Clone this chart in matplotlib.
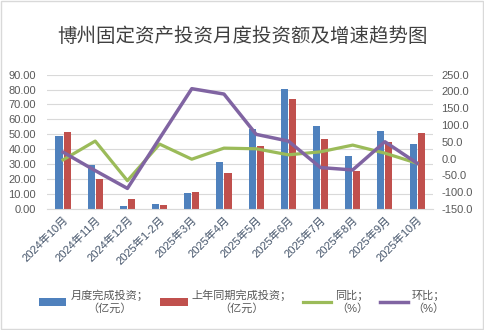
import numpy as np
import matplotlib.pyplot as plt
from matplotlib.patches import Rectangle

months = ['2024年10月', '2024年11月', '2024年12月', '2025年1-2月', '2025年3月', '2025年4月',
          '2025年5月', '2025年6月', '2025年7月', '2025年8月', '2025年9月', '2025年10月']
invest = [48.9, 29.5, 2.2, 3.4, 10.9, 31.7, 53.6, 80.4, 55.6, 35.5, 52.3, 43.6]
invest_last = [51.8, 19.9, 6.7, 2.9, 11.6, 24.3, 42.2, 73.7, 46.9, 25.5, 44.9, 51.1]
yoy = [-4, 52, -66, 43, -2, 31, 29, 11, 20, 40, 16, -14]
mom = [19, -36, -89, 60, 208, 192, 72, 52, -27, -34, 50, -14]

plt.rcParams['font.family'] = ['Liberation Sans', 'Noto Sans CJK SC']
plt.rcParams['font.size'] = 8

fig = plt.figure(figsize=(4.84, 3.30), dpi=100)
ax = fig.add_axes([0.097, 0.367, 0.798, 0.407])
ax2 = ax.twinx()

x = np.arange(len(months))
w = 0.22
b1 = ax.bar(x - 0.125, invest, w, color='#4F81BD', label='月度完成投资；\n（亿元）')
b2 = ax.bar(x + 0.125, invest_last, w, color='#C0504D', label='上年同期完成投资；\n（亿元）')
l1, = ax2.plot(x, yoy, color='#9BBB59', lw=2.3, label='同比；\n（%）')
l2, = ax2.plot(x, mom, color='#8064A2', lw=2.5, label='环比；\n（%）')

ax.set_xlim(-0.5, len(months) - 0.5)
ax.set_ylim(0, 90)
ax.set_yticks(np.arange(0, 91, 10))
ax.yaxis.set_major_formatter(plt.FuncFormatter(lambda v, p: '%.2f' % v))
ax2.set_ylim(-150, 250)
ax2.set_yticks(np.arange(-150, 251, 50))
ax2.yaxis.set_major_formatter(plt.FuncFormatter(lambda v, p: '%.1f' % v))

ax.grid(axis='y', color='#D9D9D9', lw=0.8)
ax.set_axisbelow(True)
for a in (ax, ax2):
    for s in a.spines.values():
        s.set_visible(False)
    a.tick_params(length=0, colors='#595959', labelsize=8)
ax.spines['bottom'].set_visible(True)
ax.spines['bottom'].set_color('#D9D9D9')
ax.tick_params(axis='y', pad=8)
ax2.tick_params(axis='y', pad=6)

ax.set_xticks(x)
ax.set_xticklabels(months, rotation=45, ha='right', rotation_mode='anchor', color='#44546A')
ax.tick_params(axis='x', pad=4)

fig.text(0.5, 0.888, '博州固定资产投资月度投资额及增速趋势图', ha='center', va='center',
         fontsize=14, color='#404040', family=['Noto Sans CJK SC'])

leg = fig.legend(handles=[b1, b2, l1, l2], loc='center', bbox_to_anchor=(0.5, 0.085), ncol=4,
                 frameon=False, handlelength=2.5, handletextpad=0.4, columnspacing=1.0,
                 fontsize=8)
for t in leg.get_texts():
    t.set_multialignment('center')
    t.set_color('#595959')

fig.patches.append(Rectangle((0.002, 0.003), 0.996, 0.994, transform=fig.transFigure,
                             fill=False, edgecolor='#D9D9D9', lw=1))

fig.savefig('out.png', dpi=100)
